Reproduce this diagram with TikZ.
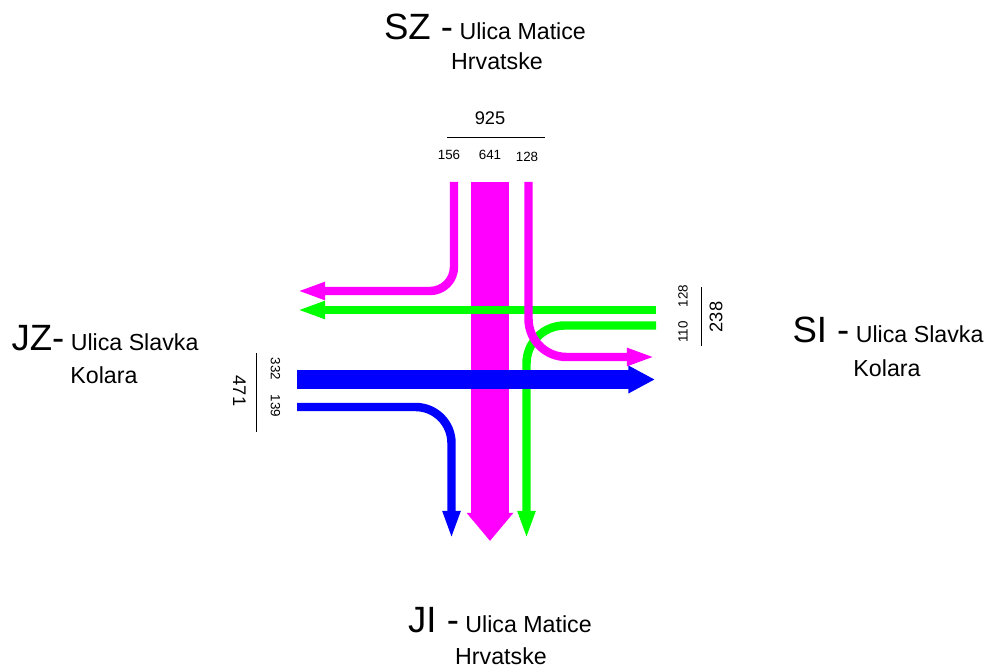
\documentclass[tikz,border=0pt]{standalone}
\usepackage{fontspec}
\setmainfont{Liberation Sans}
\usepackage{xcolor}
\usetikzlibrary{
	arrows.meta    % Per le punte delle frecce (Triangle)
}

\definecolor{fucsia}{RGB}{255,0,255}
\definecolor{verde}{RGB}{0,255,0}
\definecolor{blu}{RGB}{0,0,255}

\tikzset{
	flusso/.style={line width=6pt, -{Triangle[width=11.5pt,length=20pt]}},
	flussoforte/.style={line width=27pt, -{Triangle[width=32pt,length=20pt]}},
	flussomedio/.style={line width=13.5pt, -{Triangle[width=18.5pt,length=19pt]}},
	strada/.style={anchor=base, inner sep=0pt, font=\fontsize{16.5}{19}\selectfont},
	num/.style={inner sep=0pt, font=\fontsize{9.5}{11}\selectfont},
	tot/.style={inner sep=0pt, font=\fontsize{13}{15}\selectfont}
}

\begin{document}
\begin{tikzpicture}[x=0.025cm, y=-0.025cm]
		\useasboundingbox (0,0) rectangle (992,668);
		
		% --- Nomi delle strade ---
		\node[strada] (szA) at (485,40) {{\fontsize{26}{30}\selectfont SZ -} Ulica Matice};
		\node[strada] (szB) at (497,70) {Hrvatske};
		\node[strada] (jiA) at (500,632) {{\fontsize{26}{30}\selectfont JI -} Ulica Matice};
		\node[strada] (jiB) at (501,664) {Hrvatske};
		\node[strada] (jzA) at (105,351) {{\fontsize{26}{30}\selectfont JZ-} Ulica Slavka};
		\node[strada] (jzB) at (104,384) {Kolara};
		\node[strada] (siA) at (888,343) {{\fontsize{26}{30}\selectfont SI -} Ulica Slavka};
		\node[strada] (siB) at (887,377) {Kolara};
		
		% --- Flussi ---
		% SZ: dritto
		\draw[flussoforte, fucsia] (490,182) -- (490,541);
		% SI: dritto e svolta a sinistra
		\draw[flusso, verde] (656,310) -- (297,310);
		\draw[flusso, verde, rounded corners=0.95cm] (656,325.5) -| (526.5,539);
		% SZ: svolte
		\draw[flusso, fucsia, rounded corners=0.6cm] (454,182) |- (297,291);
		\draw[flusso, fucsia, rounded corners=0.95cm] (528.5,182) |- (655,357);
		% JZ: dritto e svolta a destra
		\draw[flussomedio, blu] (297,379.5) -- (655,379.5);
		\draw[flusso, blu, rounded corners=0.9cm] (297,407) -| (451.5,539);
		
		% --- Conteggi ---
		% SZ
		\node[tot] (szTot) at (490,118) {925};
		\draw (447,137) -- (545,137);
		\node[num] (szL) at (449,155) {156};
		\node[num] (szD) at (490,155) {641};
		\node[num] (szR) at (527,157) {128};
		% SI
		\node[num, rotate=90] (siD) at (683,296) {128};
		\node[num, rotate=90] (siL) at (683,332) {110};
		\draw (701,287) -- (701,346);
		\node[tot, rotate=90] (siTot) at (716,317) {238};
		% JZ
		\node[num, rotate=-90] (jzD) at (275.5,369) {332};
		\node[num, rotate=-90] (jzR) at (275.5,406) {139};
		\draw (256,353) -- (256,432);
		\node[tot, rotate=-90] (jzTot) at (239.5,391) {471};
	\end{tikzpicture}
\end{document}
